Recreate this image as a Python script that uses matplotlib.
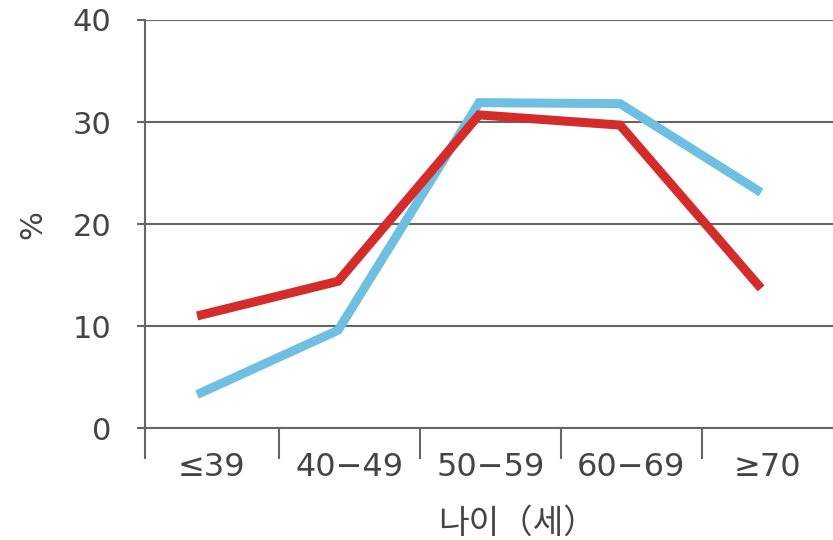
import numpy as np
import matplotlib.pyplot as plt

plt.rcParams['font.family'] = ['DejaVu Sans', 'Noto Sans CJK KR']

age_groups = ["≤39", "40−49", "50−59", "60−69", "≥70"]
red_vals = [11.0, 14.4, 30.7, 29.7, 13.7]
blue_vals = [3.3, 9.6, 31.9, 31.8, 23.1]

gray = "#666666"
text_gray = "#444444"

fig = plt.figure(figsize=(8.33, 5.4), dpi=100)
ax = fig.add_axes([0.174, 0.207, 0.826, 0.756])

x = np.arange(len(age_groups))
ax.plot(x, blue_vals, color="#6fbfe3", lw=6.5, solid_capstyle="butt", solid_joinstyle="miter", zorder=3)
ax.plot(x, red_vals, color="#d42b2b", lw=6.5, solid_capstyle="butt", solid_joinstyle="miter", zorder=4)

left, right = -0.37, 4.51
ax.set_xlim(left, right)
ax.set_ylim(0, 40)

# y axis
ax.set_yticks([0, 10, 20, 30, 40])
ax.tick_params(axis="y", direction="out", length=6, width=1.5, color=gray,
               labelsize=22, labelcolor=text_gray, pad=18)
ax.grid(axis="y", color=gray, lw=1.5)
ax.set_ylabel("%", fontsize=22, color=text_gray, labelpad=18)

# x axis: boundary ticks, labels between them
bounds = np.arange(len(age_groups) - 1) + 0.58
ax.set_xticks(np.concatenate([[left], bounds]))
ax.set_xticklabels([])
ax.tick_params(axis="x", which="major", direction="out", length=22, width=1.5, color=gray)
edges = np.concatenate([[left], bounds, [right]])
centers = (edges[:-1] + edges[1:]) / 2
ax.set_xticks(centers, minor=True)
ax.set_xticklabels(age_groups, minor=True)
ax.tick_params(axis="x", which="minor", length=0, labelsize=23, labelcolor=text_gray, pad=17)
ax.set_xlabel("나이（세）", fontsize=24, color=text_gray,
              family=['Noto Sans CJK KR', 'DejaVu Sans'])
ax.xaxis.set_label_coords(0.542, -0.19)

for s in ["top", "right"]:
    ax.spines[s].set_visible(False)
for s in ["left", "bottom"]:
    ax.spines[s].set_color(gray)
    ax.spines[s].set_linewidth(1.5)

fig.savefig("out.png", dpi=100)
